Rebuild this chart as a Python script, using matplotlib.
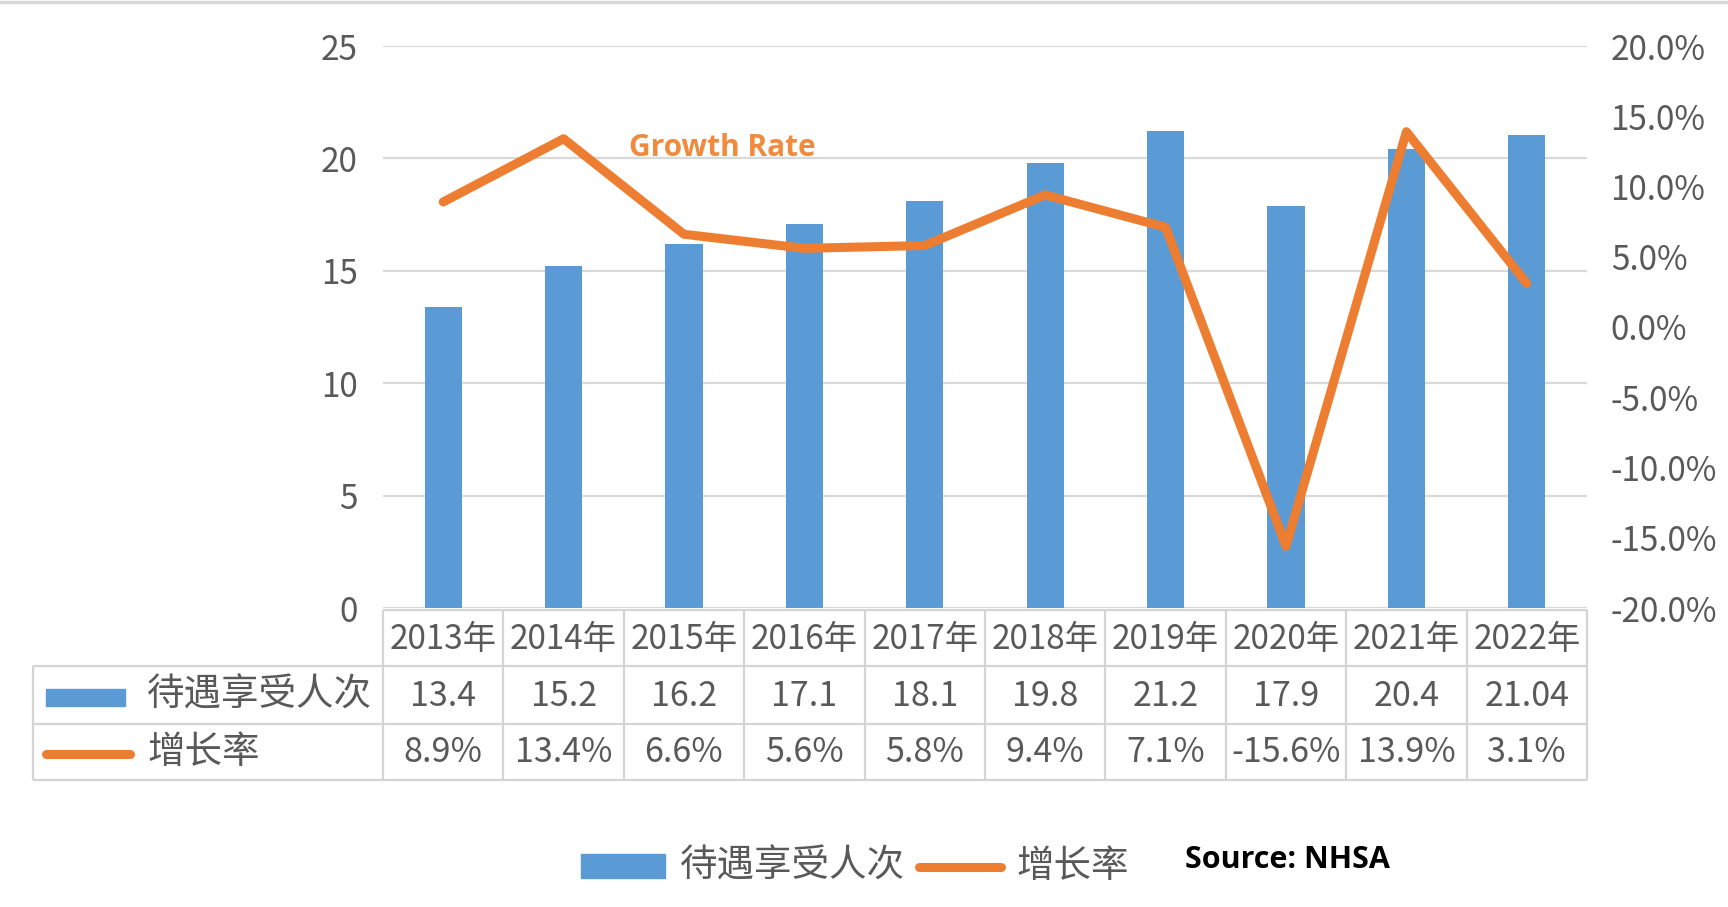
import matplotlib
matplotlib.use("Agg")
import matplotlib.pyplot as plt
from matplotlib.lines import Line2D
from matplotlib.patches import Rectangle

plt.rcParams['font.family'] = ['Noto Sans CJK SC', 'DejaVu Sans']

# ---------------- data ----------------
years = ['2013年', '2014年', '2015年', '2016年', '2017年',
         '2018年', '2019年', '2020年', '2021年', '2022年']
people = [13.4, 15.2, 16.2, 17.1, 18.1, 19.8, 21.2, 17.9, 20.4, 21.04]
people_labels = ['13.4', '15.2', '16.2', '17.1', '18.1',
                 '19.8', '21.2', '17.9', '20.4', '21.04']
growth = [8.9, 13.4, 6.6, 5.6, 5.8, 9.4, 7.1, -15.6, 13.9, 3.1]
growth_labels = ['8.9%', '13.4%', '6.6%', '5.6%', '5.8%',
                 '9.4%', '7.1%', '-15.6%', '13.9%', '3.1%']
left_ticks = [0, 5, 10, 15, 20, 25]
right_ticks = [-20, -15, -10, -5, 0, 5, 10, 15, 20]
series_names = ['待遇享受人次', '增长率']
annotation = 'Growth Rate'
source = 'Source: NHSA'

# ---------------- style ----------------
BLUE = '#5B9BD5'
ORANGE = '#ED7D31'
TXT = '#595959'
GRID = '#D9D9D9'
TLINE = '#D4D4D4'

W, H = 1728, 907
fig = plt.figure(figsize=(W / 100, H / 100), dpi=100)


def fx(px):
    return px / W


def fy(py):
    return 1 - py / H


# plot area in pixels
PL, PR, PT, PB = 383, 1587, 46, 608

ax = fig.add_axes([fx(PL), fy(PB), fx(PR) - fx(PL), fy(PT) - fy(PB)])
xs = list(range(len(years)))
ax.bar(xs, people, width=0.31, color=BLUE, zorder=2)
ax.set_xlim(-0.5, len(years) - 0.5)
ax.set_ylim(0, 25)
ax.set_yticks(left_ticks)
ax.yaxis.grid(True, color=GRID, lw=1.6)
ax.set_axisbelow(True)
for s in ax.spines.values():
    s.set_visible(False)
ax.set_xticks([])
ax.tick_params(axis='y', length=0, pad=18, labelsize=24, labelcolor=TXT)

ax2 = ax.twinx()
ax2.plot(xs, growth, color=ORANGE, lw=6.5, solid_capstyle='round',
         solid_joinstyle='round', zorder=3)
ax2.set_ylim(-20, 20)
ax2.set_yticks(right_ticks)
ax2.set_yticklabels([f'{v:.1f}%' for v in right_ticks])
ax2.tick_params(axis='y', length=0, pad=17, labelsize=24, labelcolor=TXT)
for s in ax2.spines.values():
    s.set_visible(False)

fig.text(fx(629), fy(148), annotation, color='#F08A3C', fontsize=21.5,
         fontweight='bold', family=['Open Sans', 'DejaVu Sans'],
         ha='left', va='center')

# ---------------- data table ----------------
R0, R1, R2, R3 = 610, 666, 724, 780
tab = fig.add_axes([fx(PL), fy(R3), fx(PR) - fx(PL), fy(R0) - fy(R3)])
tab.set_xlim(-0.5, len(years) - 0.5)
tab.set_ylim(R3, R0)
tab.axis('off')

colw = (PR - PL) / len(years)


def dx(px):
    return -0.5 + (px - PL) / colw


xl = dx(33)
n = len(years)
kw = dict(color=TLINE, lw=1.6, clip_on=False, solid_capstyle='butt')
tab.plot([-0.5, n - 0.5], [R0, R0], **kw)
for yy in (R1, R2, R3):
    tab.plot([xl, n - 0.5], [yy, yy], **kw)
for k in range(n + 1):
    tab.plot([k - 0.5, k - 0.5], [R0, R3], **kw)
tab.plot([xl, xl], [R1, R3], **kw)

for i in range(n):
    tab.text(i, (R0 + R1) / 2 + 1, years[i], ha='center', va='center',
             fontsize=24, color=TXT, clip_on=False)
    tab.text(i, (R1 + R2) / 2 + 1, people_labels[i], ha='center', va='center',
             fontsize=24.5, color=TXT, clip_on=False)
    tab.text(i, (R2 + R3) / 2 + 1, growth_labels[i], ha='center', va='center',
             fontsize=24.5, color=TXT, clip_on=False)

# row labels with legend keys
tab.add_patch(Rectangle((dx(46), 689), dx(125) - dx(46), 17, color=BLUE,
                        clip_on=False))
tab.plot([dx(46), dx(130)], [754, 754], color=ORANGE, lw=6.5,
         solid_capstyle='round', clip_on=False)
tab.text(dx(147), (R1 + R2) / 2, series_names[0], ha='left', va='center',
         fontsize=27, color=TXT, clip_on=False)
tab.text(dx(147), (R2 + R3) / 2, series_names[1], ha='left', va='center',
         fontsize=27, color=TXT, clip_on=False)

# ---------------- bottom legend ----------------
fig.patches.append(Rectangle((fx(581), fy(878)), fx(665) - fx(581),
                             fy(854) - fy(878), color=BLUE,
                             transform=fig.transFigure, figure=fig))
fig.text(fx(680), fy(866), series_names[0], ha='left', va='center',
         fontsize=27, color=TXT)
fig.lines.append(Line2D([fx(919), fx(1001)], [fy(867), fy(867)], color=ORANGE,
                        lw=6.5, solid_capstyle='round',
                        transform=fig.transFigure, figure=fig))
fig.text(fx(1016), fy(866), series_names[1], ha='left', va='center',
         fontsize=27, color=TXT)
fig.text(fx(1185), fy(860), source, ha='left', va='center', fontsize=22,
         fontweight='bold', color='black', family=['Open Sans', 'DejaVu Sans'])

# top border line
fig.lines.append(Line2D([0, 1], [fy(2), fy(2)], color=GRID, lw=2.5,
                        transform=fig.transFigure, figure=fig))

fig.savefig('out.png', dpi=100, facecolor='white')
